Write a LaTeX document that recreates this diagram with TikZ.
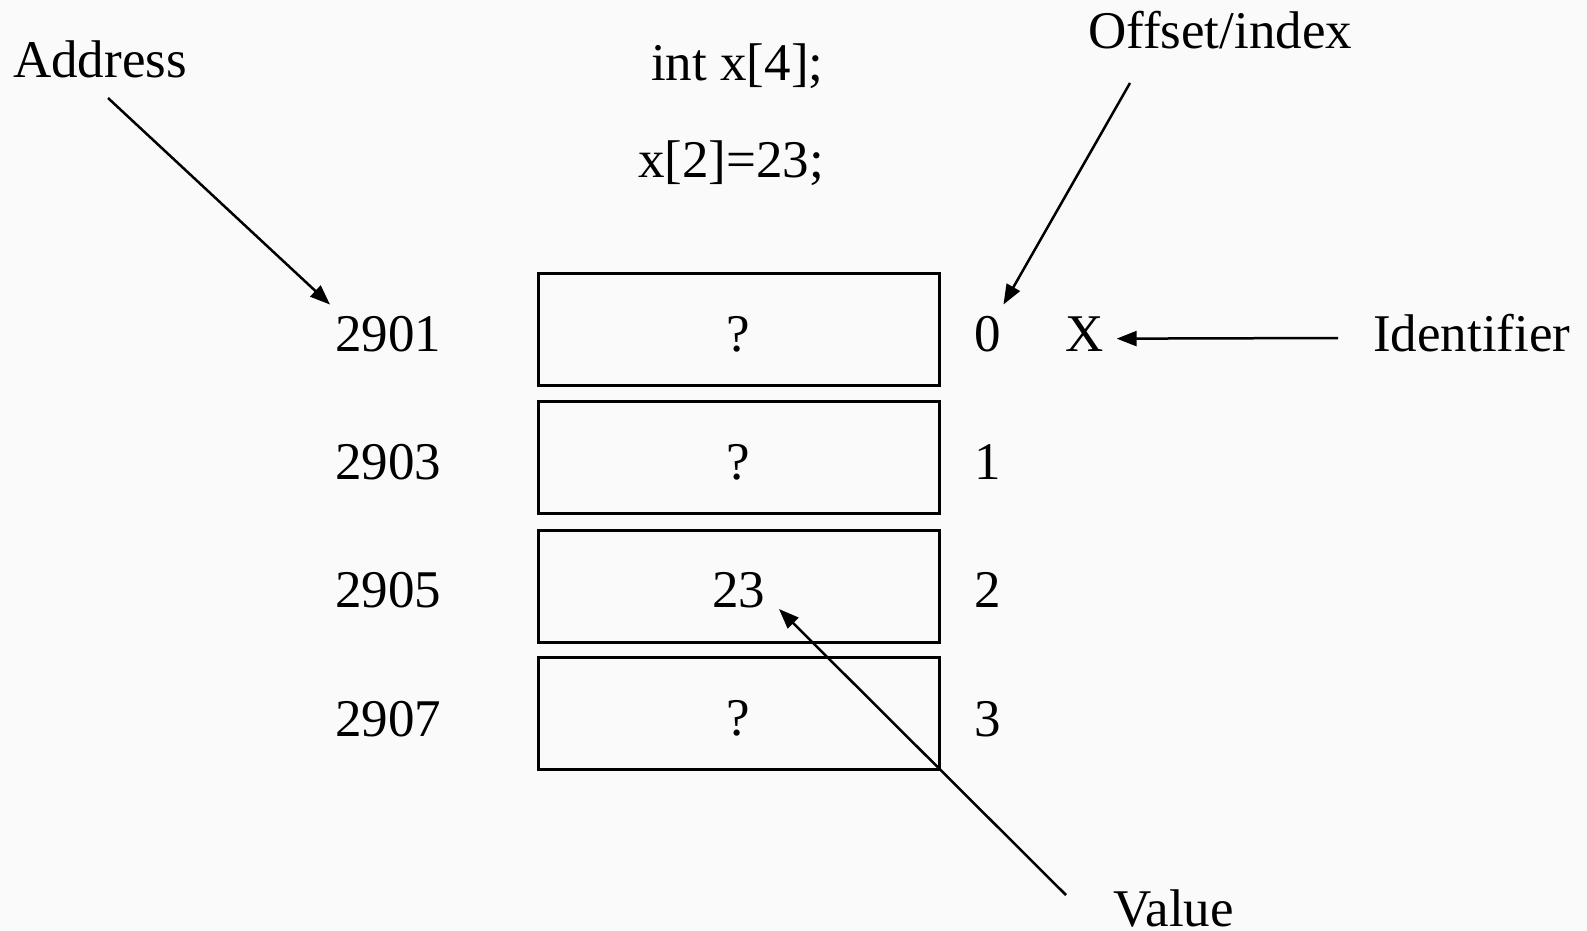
\documentclass[tikz,border=0pt]{standalone}
\usepackage{fontspec}
\setmainfont{Liberation Serif}
\usetikzlibrary{arrows.meta}
\definecolor{paper}{RGB}{250,250,250}
\begin{document}
\begin{tikzpicture}[x=1pt,y=-1pt,
  lbl/.style={inner sep=0pt, font=\fontsize{53}{60}\selectfont},
  cell/.style={draw, line width=3pt, minimum width=401pt, minimum height=112pt,
    inner sep=0pt, text height=43pt, text depth=0pt,
    font=\fontsize{53}{60}\selectfont},
  ptr/.style={line width=2.5pt, -{Triangle[length=20pt,width=15pt]}}]
% page
\fill[paper] (0,0) rectangle (1587,931);
\useasboundingbox (0,0) rectangle (1587,931);

% declarations
\node[lbl, anchor=base west] (decl) at (651,81) {int x[4];};
\node[lbl, anchor=base west] (assign) at (638,177) {x[2]=23;};

% array cells
\node[cell] (c0) at (738.5,329.5) {?};
\node[cell] (c1) at (738.5,457.5) {?};
\node[cell] (c2) at (738.5,586) {23};
\node[cell] (c3) at (738.5,713.5) {?};

% addresses
\node[lbl, anchor=base west] (a0) at (335,351) {2901};
\node[lbl, anchor=base west] (a1) at (335,479) {2903};
\node[lbl, anchor=base west] (a2) at (335,607) {2905};
\node[lbl, anchor=base west] (a3) at (335,736) {2907};

% offsets
\node[lbl, anchor=base] (i0) at (988,351) {0};
\node[lbl, anchor=base] (i1) at (988,479) {1};
\node[lbl, anchor=base] (i2) at (988,607) {2};
\node[lbl, anchor=base] (i3) at (988,736) {3};

% identifier
\node[lbl, anchor=base west] (xid) at (1065,351) {X};

% captions
\node[lbl, anchor=base west] (addr) at (13,78) {Address};
\node[lbl, anchor=base west] (offs) at (1088,49) {Offset/index};
\node[lbl, anchor=base west] (ident) at (1373,351) {Identifier};
\node[lbl, anchor=base west] (val) at (1113,926) {Value};

% arrow tails
\coordinate (addrT) at (108,98);
\coordinate (offsT) at (1130,83);
\coordinate (identT) at (1338,338);
\coordinate (valT) at (1066,895);

% arrows
\draw[ptr] (addrT) -- ([xshift=-5pt,yshift=11pt]a0.north west);
\draw[ptr] (offsT) -- ([xshift=2pt,yshift=11pt]i0.north east);
\draw[ptr] (identT) -- ([xshift=13pt,yshift=-5pt]xid.east);
\draw[ptr] (valT) -- ([xshift=40.5pt,yshift=-23pt]c2.center);
\end{tikzpicture}
\end{document}
